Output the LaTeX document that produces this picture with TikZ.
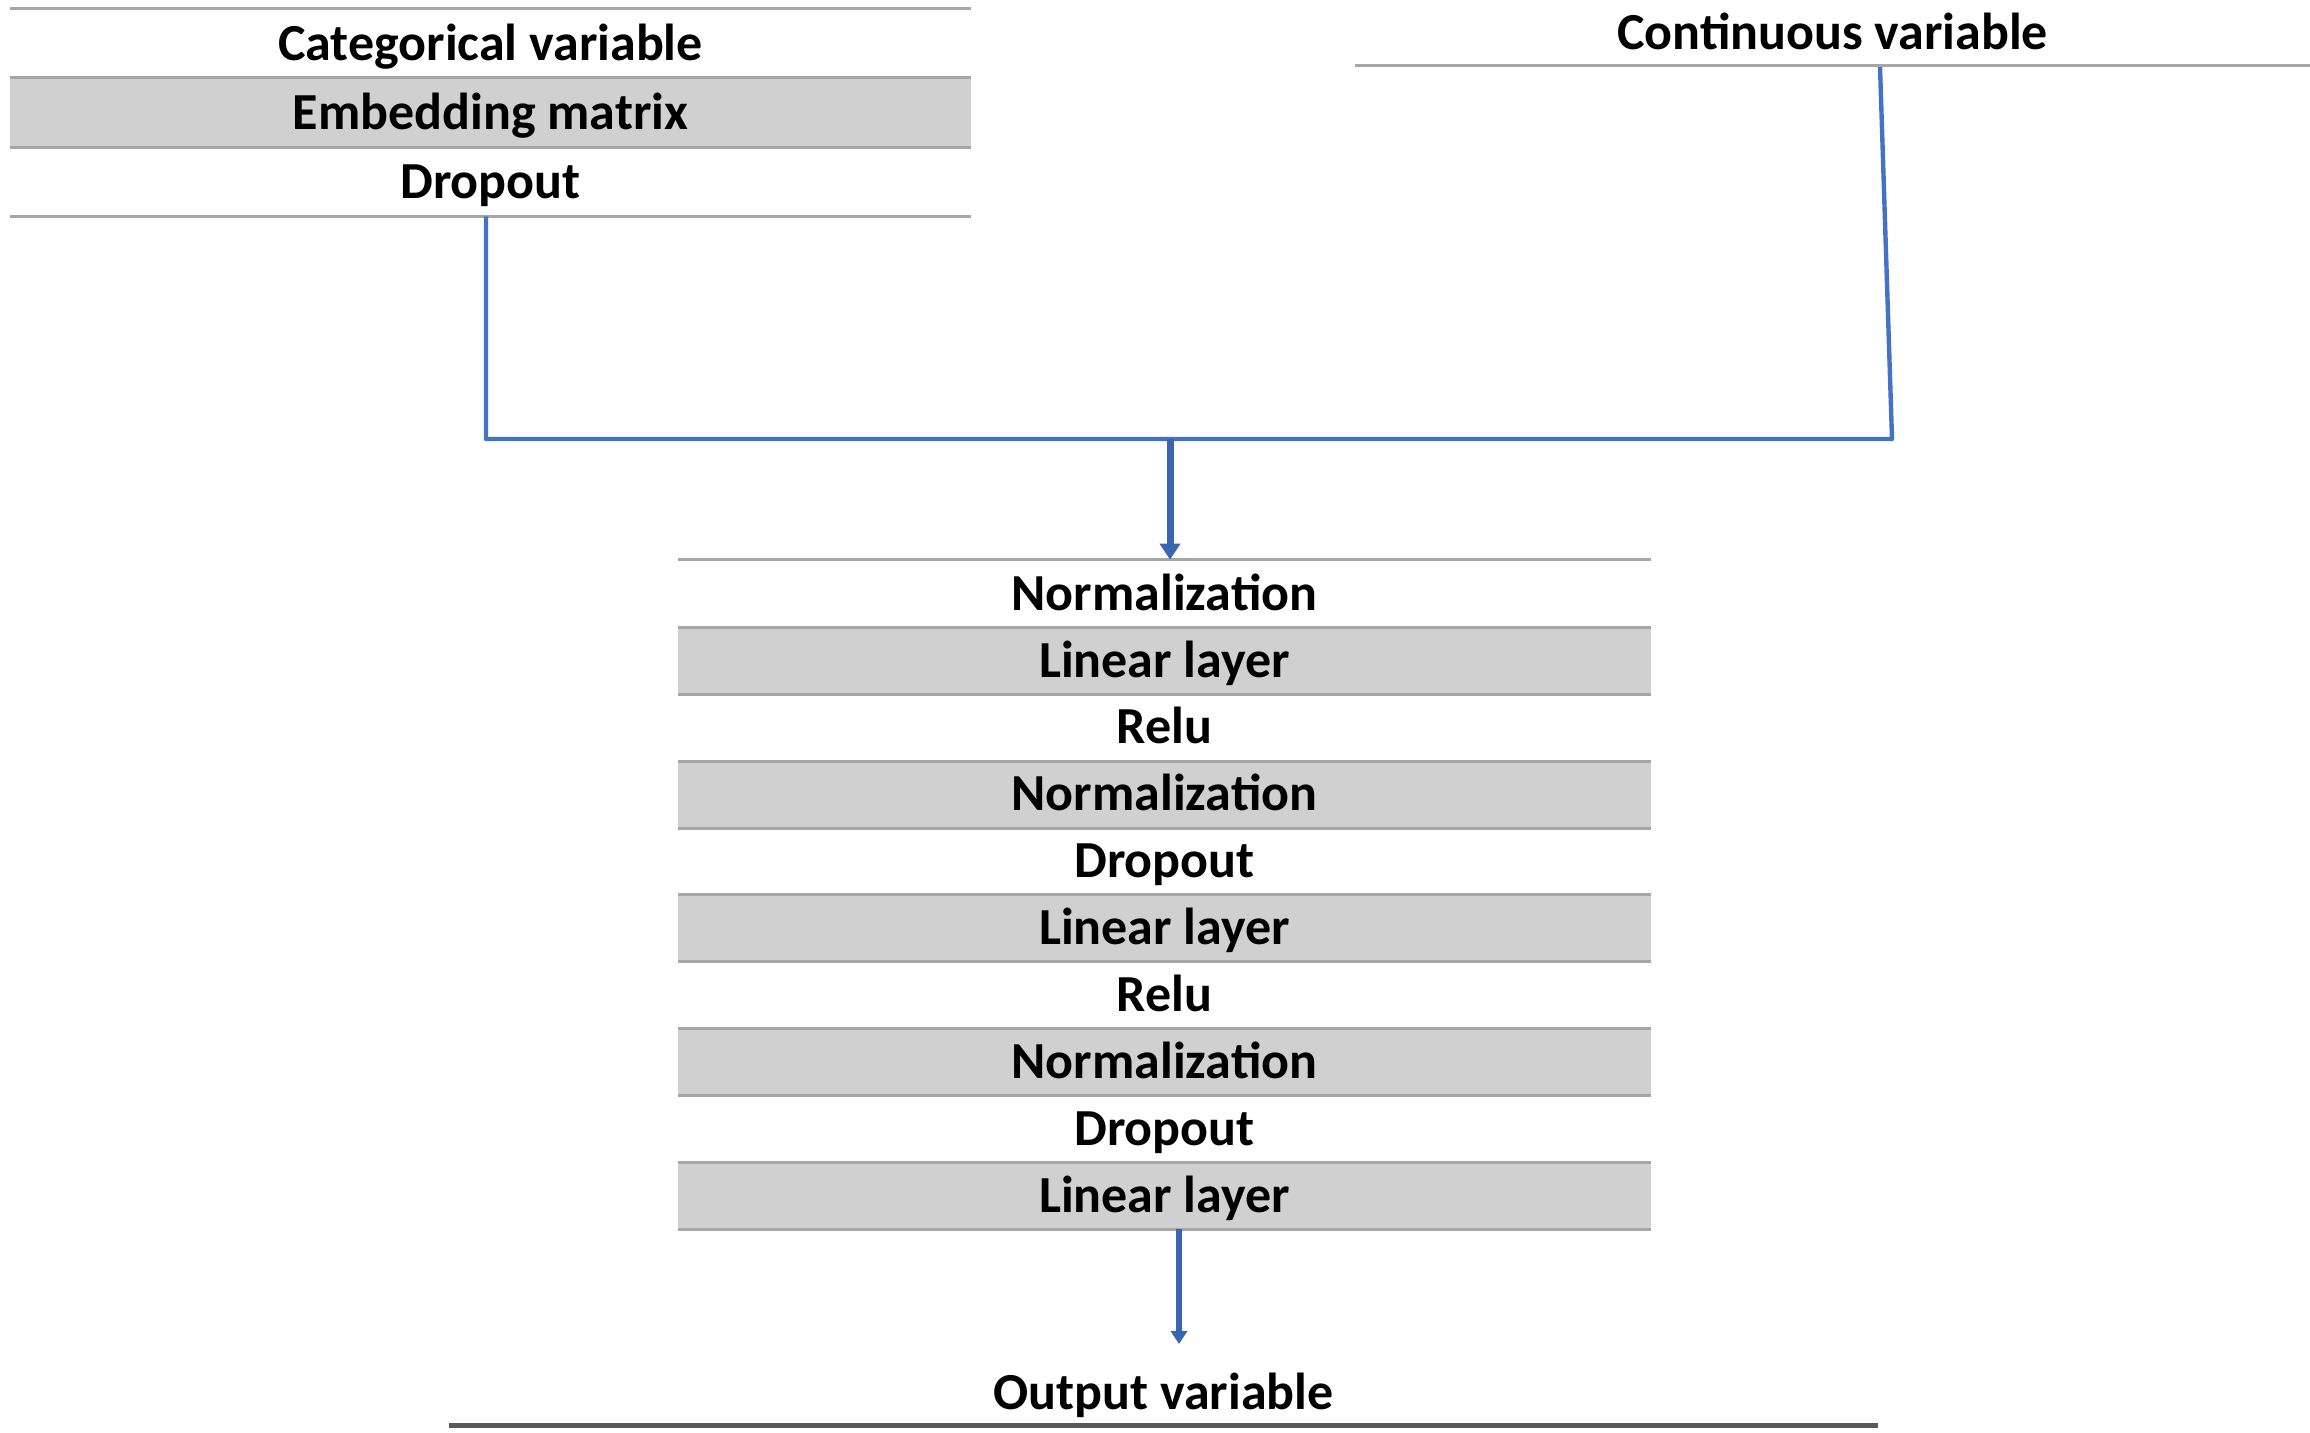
\documentclass[tikz,border=0pt]{standalone}
\usepackage{fontspec}
\setmainfont{Carlito}
\usetikzlibrary{arrows.meta}
\definecolor{bandgrey}{HTML}{D0D0D0}
\definecolor{rulegrey}{HTML}{A6A6A6}
\definecolor{linkblue}{HTML}{4472C4}
\definecolor{arrowblue}{HTML}{3A65B0}
\definecolor{darkrule}{HTML}{595959}
\begin{document}
\begin{tikzpicture}[x=0.5pt,y=-0.5pt,
 lbl/.style={inner sep=0pt, font=\fontsize{26}{30}\selectfont\bfseries, text height=19pt, text depth=2.3pt},
 catrow/.style={lbl, minimum width=480.5pt, minimum height=34.5pt},
 midrow/.style={lbl, minimum width=486.5pt, minimum height=33.45pt},
 band/.style={fill=bandgrey},
 rule/.style={draw=rulegrey, line width=1.5pt},
 link/.style={draw=linkblue, line width=2.2pt, line join=round},
 flow/.style={draw=arrowblue, line width=3.5pt, -{Triangle[width=10pt,length=8pt]}},
 flowsmall/.style={draw=arrowblue, line width=3pt, -{Triangle[width=8pt,length=6.5pt]}},
 ]
\useasboundingbox (0,0) rectangle (2310,1432);
% top-left table
\node[catrow] (cat) at (490.5,43.5) {Categorical variable};
\node[catrow,band] (emb) at (490.5,112.5) {Embedding matrix};
\node[catrow] (drop) at (490.5,181.5) {Dropout};
\draw[rule] (cat.north west) -- (cat.north east);
\draw[rule] (emb.north west) -- (emb.north east);
\draw[rule] (emb.south west) -- (emb.south east);
\draw[rule] (drop.south west) -- (drop.south east);
% continuous
\node[lbl, minimum width=477.5pt, minimum height=32.5pt] (cont) at (1832.5,32.5) {Continuous variable};
\draw[rule] (cont.south west) -- (cont.south east);
% middle stack
\node[midrow] (m1) at (1164.5,593.45) {Normalization};
\node[midrow,band] (m2) at (1164.5,660.35) {Linear layer};
\node[midrow] (m3) at (1164.5,727.25) {Relu};
\node[midrow,band] (m4) at (1164.5,794.15) {Normalization};
\node[midrow] (m5) at (1164.5,861.05) {Dropout};
\node[midrow,band] (m6) at (1164.5,927.95) {Linear layer};
\node[midrow] (m7) at (1164.5,994.85) {Relu};
\node[midrow,band] (m8) at (1164.5,1061.75) {Normalization};
\node[midrow] (m9) at (1164.5,1128.65) {Dropout};
\node[midrow,band] (m10) at (1164.5,1195.55) {Linear layer};
\draw[rule] (m1.north west) -- (m1.north east);
\foreach \n in {m1,m2,m3,m4,m5,m6,m7,m8,m9,m10}
  \draw[rule] (\n.south west) -- (\n.south east);
% output
\node[lbl, minimum width=714.5pt, minimum height=32pt] (out) at (1163.5,1393) {Output variable};
\draw[draw=darkrule, line width=2.5pt] (out.south west) -- (out.south east);
% connectors
\coordinate (jl) at (486,439);
\coordinate (jr) at (1892,439);
\coordinate (jm) at (1170,439);
\coordinate (ctop) at (1880,67);
\coordinate (bm) at (1179,1229);
\coordinate (otip) at (1179,1344);
\draw[link] (drop.south -| jl) -- (jl) -- (jr) -- (ctop);
\draw[flow] (jm) -- (m1.north -| jm);
\draw[flowsmall] (m10.south -| bm) -- (otip);
\end{tikzpicture}
\end{document}
